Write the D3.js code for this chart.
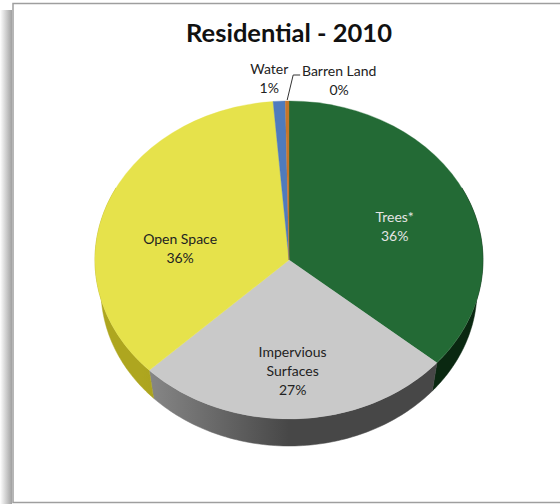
<!DOCTYPE html>
<html>
<head>
<meta charset="utf-8">
<script src="https://cdn.jsdelivr.net/npm/d3@7"></script>
<style>
  html, body { margin: 0; padding: 0; background: #fff; }
  svg { display: block; }
</style>
</head>
<body>
<svg id="chart" width="560" height="504"></svg>
<script>
// Land cover shares, residential parcels, 2010 (percent)
const categories = ["Trees*", "Impervious Surfaces", "Open Space", "Water", "Barren Land"];
const shares     = [36.2, 26.6, 35.9, 1.0, 0.3];
const labelLines = [["Trees*"], ["Impervious", "Surfaces"], ["Open Space"], ["Water"], ["Barren Land"]];
const topColors  = ["#236a35", "#c9c9c9", "#e6e24b", "#4f7bbd", "#c8762a"];
const sideColors = [["#143f1f", "#0a2811"], ["#8a8a8a", "#474747"], ["#aea61f", "#8c8517"], ["#38598a", "#2a4469"], ["#9a5a1e", "#7a4614"]];
const title = "Residential - 2010";

const W = 560, H = 504;
const cx = 289, cy = 260, rx = 194, ry = 159, depth = 27;
// the lower rim sits a little further from the eye, so it is drawn slightly smaller
const rxLow = rx - 6, ryLow = ry - 3, cyLow = cy + depth + 3;

const svg = d3.select("#chart");
const defs = svg.append("defs");

// frame with a soft shadow along the left edge
const shadow = defs.append("linearGradient").attr("id", "lshadow").attr("x1", 0).attr("x2", 1).attr("y1", 0).attr("y2", 0);
shadow.append("stop").attr("offset", 0).attr("stop-color", "#ffffff");
shadow.append("stop").attr("offset", 1).attr("stop-color", "#a0a0a0");
svg.append("rect").attr("x", 0).attr("y", 10).attr("width", 12).attr("height", H - 10).attr("fill", "url(#lshadow)");
svg.append("rect").attr("x", 13).attr("y", 3.5).attr("width", W + 20).attr("height", 499)
  .attr("fill", "#fff").attr("stroke", "#9e9e9e").attr("stroke-width", 1.5);

svg.append("text").attr("x", cx).attr("y", 42).attr("text-anchor", "middle")
  .attr("font-family", "Lato, 'Open Sans', sans-serif").attr("font-weight", 700)
  .attr("font-size", 25.5).attr("fill", "#111").text(title);

const pie = d3.pie().sort(null).value(d => d)(shares);

// projected points on the tilted disc: angle clockwise from 12 o'clock
const proj = (a, f, z) => [cx + rx * f * Math.sin(a), cy - ry * f * Math.cos(a) + z];
const projLow = a => [cx + rxLow * Math.sin(a), cyLow - ryLow * Math.cos(a)];

// side wall gradients
sideColors.forEach((c, i) => {
  const g = defs.append("linearGradient").attr("id", "side" + i).attr("gradientUnits", "userSpaceOnUse")
    .attr("x1", cx - rx).attr("x2", cx + rx).attr("y1", 0).attr("y2", 0);
  g.append("stop").attr("offset", 0.12).attr("stop-color", c[0]);
  g.append("stop").attr("offset", 0.5).attr("stop-color", c[1]);
  g.append("stop").attr("offset", 1).attr("stop-color", c[1]);
});

// front wall of each slice; the top face covers whatever is hidden behind it
const sideG = svg.append("g");
pie.forEach((p, i) => {
  const a = Math.max(p.startAngle, Math.PI * 0.35), b = Math.min(p.endAngle, Math.PI * 1.65);
  if (b <= a) return;
  const n = 80, pts = [];
  for (let k = 0; k <= n; k++) pts.push(proj(a + (b - a) * k / n, 1, 0));
  for (let k = n; k >= 0; k--) pts.push(projLow(a + (b - a) * k / n));
  sideG.append("path").attr("d", d3.line()(pts) + "Z").attr("fill", `url(#side${i})`)
    .attr("stroke", `url(#side${i})`).attr("stroke-width", 0.5);
});

// top face of the pie
const arc = d3.arc().innerRadius(0).outerRadius(1);
svg.append("g").attr("transform", `translate(${cx},${cy}) scale(${rx},${ry})`)
  .selectAll("path").data(pie).join("path")
  .attr("d", arc).attr("fill", (d, i) => topColors[i])
  .attr("stroke", (d, i) => topColors[i]).attr("stroke-width", 0.002);

// labels
const font = "Lato, 'Open Sans', sans-serif";
const lineH = 19;
const fmt = v => Math.round(v) + "%";
// inside labels: radial fraction and vertical nudge per slice
const inside = { 0: { f: 0.6, dy: 7 }, 1: { f: 0.6, dy: 16 }, 2: { f: 0.6, dy: 22 } };
const labelG = svg.append("g").attr("font-family", font).attr("font-size", 14).attr("text-anchor", "middle");

pie.forEach((p, i) => {
  const mid = (p.startAngle + p.endAngle) / 2;
  const lines = labelLines[i].concat([fmt(shares[i])]);
  let x, yc, color = "#222";
  if (inside[i]) {
    const pt = proj(mid, inside[i].f, 0);
    x = pt[0]; yc = pt[1] + inside[i].dy;
    if (i === 0) color = "#e4e4e4";
  } else {
    const rim = proj(mid, 1, 0);
    if (categories[i] === "Water") { x = rim[0] - 10; yc = rim[1] - 23; }
    else {
      x = rim[0] + 52; yc = rim[1] - 21;
      svg.append("path").attr("fill", "none").attr("stroke", "#333").attr("stroke-width", 1)
        .attr("d", d3.line()([[rim[0] + 13, rim[1] - 26], [rim[0] + 6, rim[1] - 26], [rim[0], rim[1] - 1]]));
    }
  }
  const t = labelG.append("text").attr("fill", color);
  lines.forEach((s, k) => {
    t.append("tspan").attr("x", x).attr("y", yc + (k - (lines.length - 1) / 2) * lineH + 5).text(s);
  });
});
</script>
</body>
</html>
